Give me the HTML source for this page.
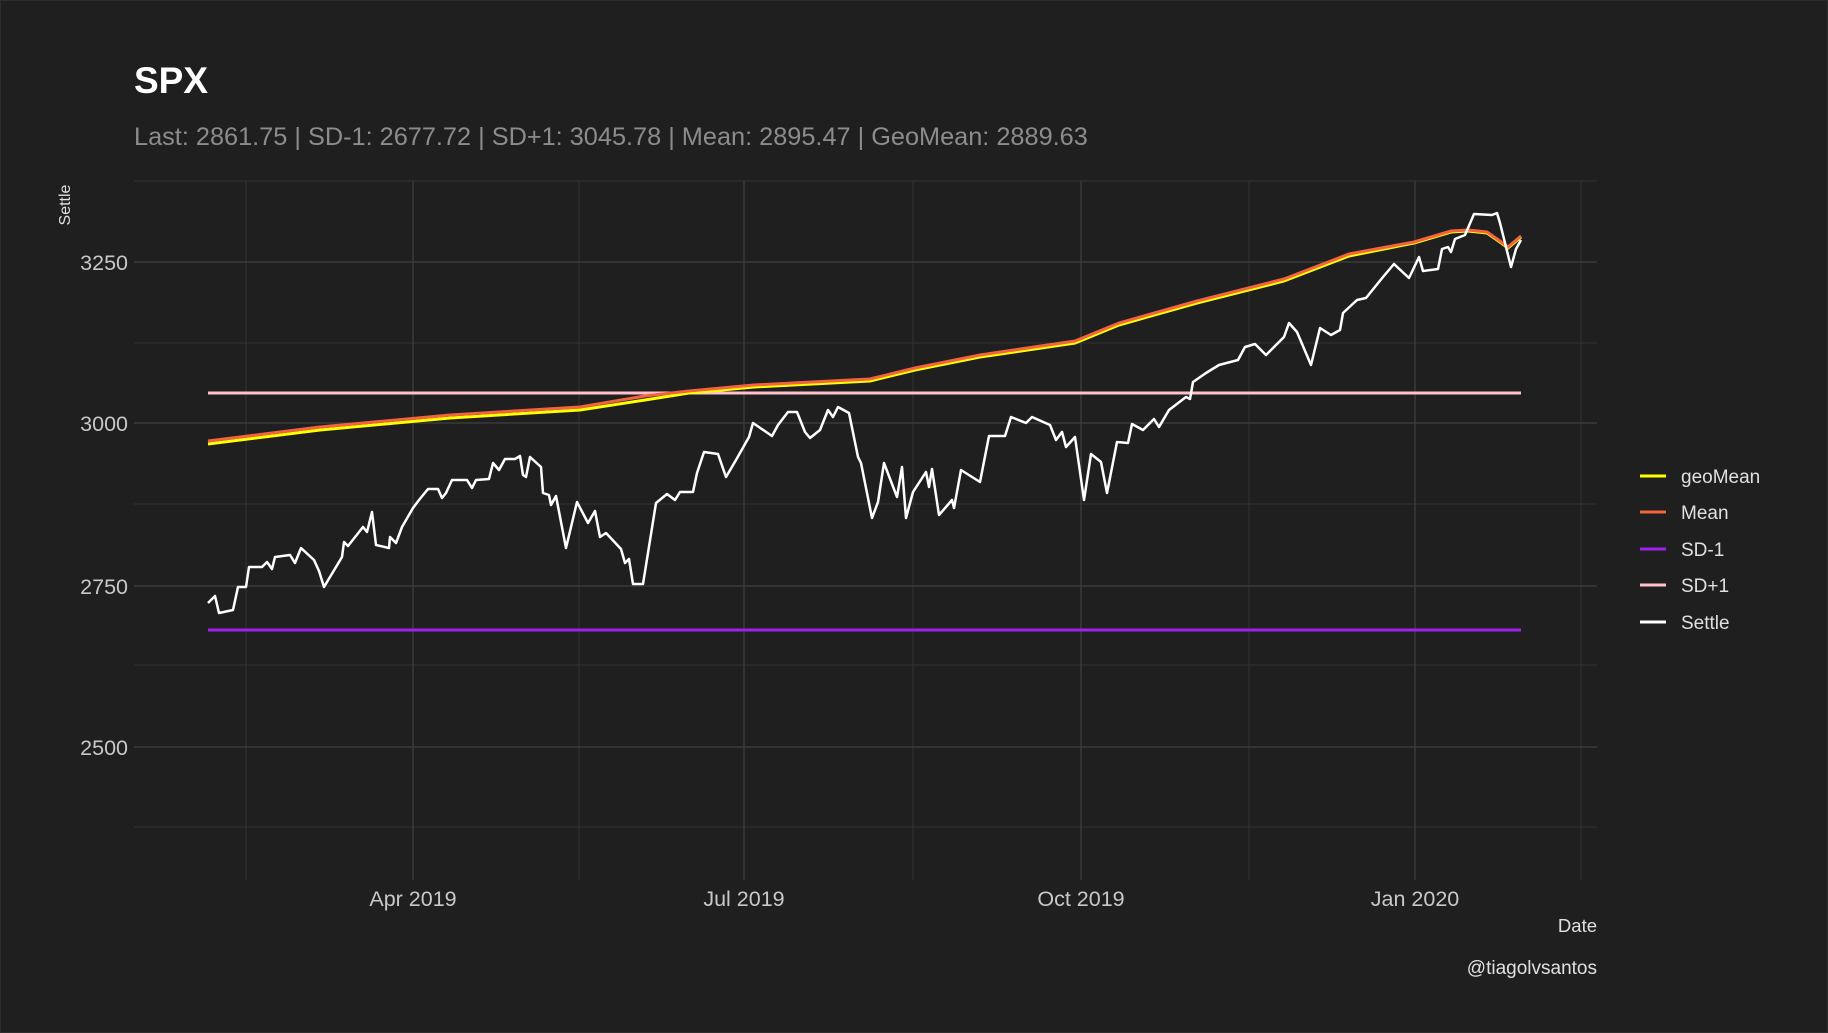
<!DOCTYPE html>
<html><head><meta charset="utf-8"><style>
body{margin:0;background:#1f1f1f;}
svg{display:block;font-family:"Liberation Sans",Arial,sans-serif;}
</style></head><body>
<svg width="1828" height="1033" viewBox="0 0 1828 1033">
<rect width="1828" height="1033" fill="#1f1f1f"/>
<rect x="0.5" y="0.5" width="1827" height="1032" fill="none" stroke="#2e2e2e"/>
<text x="134" y="93" fill="#ffffff" font-size="37" font-weight="bold">SPX</text>
<text x="134" y="145" fill="#8c8c8c" font-size="25.3">Last: 2861.75 | SD-1: 2677.72 | SD+1: 3045.78 | Mean: 2895.47 | GeoMean: 2889.63</text>
<g stroke="#333333" stroke-width="1">
<line x1="134" x2="1597" y1="181" y2="181"/><line x1="134" x2="1597" y1="343" y2="343"/><line x1="134" x2="1597" y1="504" y2="504"/><line x1="134" x2="1597" y1="665" y2="665"/><line x1="134" x2="1597" y1="827" y2="827"/>
<line x1="246" x2="246" y1="181" y2="880"/><line x1="579" x2="579" y1="181" y2="880"/><line x1="913" x2="913" y1="181" y2="880"/><line x1="1249" x2="1249" y1="181" y2="880"/><line x1="1581" x2="1581" y1="181" y2="880"/>
</g>
<g stroke="#3a3a3a" stroke-width="1.5">
<line x1="134" x2="1597" y1="262" y2="262"/><line x1="134" x2="1597" y1="423" y2="423"/><line x1="134" x2="1597" y1="586" y2="586"/><line x1="134" x2="1597" y1="747" y2="747"/>
<line x1="413" x2="413" y1="181" y2="880"/><line x1="744" x2="744" y1="181" y2="880"/><line x1="1081" x2="1081" y1="181" y2="880"/><line x1="1415" x2="1415" y1="181" y2="880"/>
</g>
<g fill="#c8c8c8" font-size="21.5" text-anchor="end">
<text x="128" y="270">3250</text><text x="128" y="431">3000</text><text x="128" y="594">2750</text><text x="128" y="755">2500</text>
</g>
<g fill="#c8c8c8" font-size="21.5" text-anchor="middle">
<text x="413" y="906">Apr 2019</text><text x="744" y="906">Jul 2019</text><text x="1081" y="906">Oct 2019</text><text x="1415" y="906">Jan 2020</text>
</g>
<text x="1597" y="932" fill="#e0e0e0" font-size="18.5" text-anchor="end">Date</text>
<text x="1597" y="974" fill="#e0e0e0" font-size="19" text-anchor="end">@tiagolvsantos</text>
<text transform="translate(70,205) rotate(-90)" fill="#e0e0e0" font-size="16" text-anchor="middle">Settle</text>
<line x1="208" x2="1521" y1="630" y2="630" stroke="#a020f0" stroke-width="3"/>
<line x1="208" x2="1521" y1="393" y2="393" stroke="#ffc0cb" stroke-width="3"/>
<polyline fill="none" stroke="#ffff00" stroke-width="3" points="208,444 320,430 450,418 580,410 645,400 689,393 754,387 870,381 915,370 980,357 1075,343 1119,325 1197,303 1284,281 1349,256 1414,243 1451,232 1468,231 1487,233 1500,242 1508,248 1521,237"/>
<polyline fill="none" stroke="#f26440" stroke-width="3" points="208,441 320,427 450,415 580,407 645,396 689,391 754,385 870,379 915,368 980,355 1075,341 1119,323 1197,301 1284,279 1349,254 1414,242 1451,231 1468,230 1487,232 1500,241 1508,247 1521,236"/>
<polyline fill="none" stroke="#ffffff" stroke-width="2.5" stroke-linejoin="round" points="208,603 215,596 219,613 233,610 238,587 246,587 249,567 262,567 267,562 272,569 275,557 290,555 295,563 301,548 314,560 319,571 324,587 342,557 344,542 348,546 363,527 367,532 372,512 376,545 389,548 390,537 396,543 402,527 413,508 419,500 428,489 438,489 442,498 446,493 452,480 467,480 472,488 476,480 489,479 493,463 499,470 505,459 515,459 520,456 523,475 526,477 530,457 541,467 543,493 549,495 551,505 556,496 566,548 577,502 588,523 595,511 600,537 606,533 621,549 625,563 629,559 633,584 643,584 656,503 667,494 675,500 680,492 693,492 697,473 704,452 718,454 726,477 736,460 749,437 753,423 772,436 778,425 788,412 797,412 805,432 810,438 820,430 828,410 833,417 838,407 849,413 858,457 861,463 872,518 878,502 884,463 897,497 902,467 906,518 913,492 926,472 929,487 932,469 939,515 952,500 954,508 961,470 980,482 989,436 1005,436 1011,417 1026,423 1032,417 1050,425 1056,440 1062,432 1066,447 1075,437 1084,500 1091,454 1101,462 1107,493 1117,442 1128,443 1132,424 1143,430 1154,419 1159,427 1169,410 1186,397 1190,399 1193,382 1206,373 1219,365 1238,360 1245,347 1255,344 1266,355 1284,337 1289,323 1297,332 1311,365 1320,328 1331,335 1340,330 1343,313 1357,300 1366,298 1383,277 1394,264 1409,278 1419,257 1423,271 1438,269 1442,249 1448,247 1451,252 1455,239 1465,235 1468,228 1474,214 1492,215 1497,213 1500,223 1511,267 1516,249 1521,240"/>
<g stroke-width="3">
<line x1="1640" x2="1666" y1="476" y2="476" stroke="#ffff00"/>
<line x1="1640" x2="1666" y1="512" y2="512" stroke="#f26440"/>
<line x1="1640" x2="1666" y1="549" y2="549" stroke="#a020f0"/>
<line x1="1640" x2="1666" y1="585" y2="585" stroke="#ffc0cb"/>
<line x1="1640" x2="1666" y1="622" y2="622" stroke="#ffffff"/>
</g>
<g fill="#e0e0e0" font-size="19">
<text x="1681" y="483">geoMean</text><text x="1681" y="519">Mean</text><text x="1681" y="556">SD-1</text><text x="1681" y="592">SD+1</text><text x="1681" y="629">Settle</text>
</g>
</svg>
</body></html>
